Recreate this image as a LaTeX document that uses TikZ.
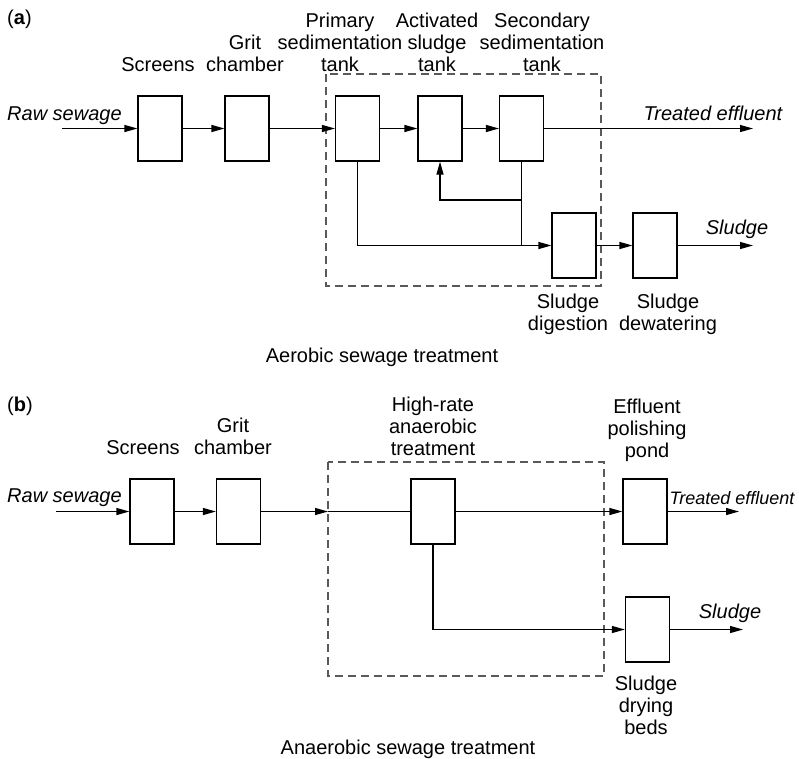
\documentclass[tikz,border=0pt]{standalone}
\usepackage{fontspec}
\setmainfont{Liberation Sans}
\usetikzlibrary{arrows.meta}

\tikzset{
  unit/.style={draw,line width=1.2pt,minimum width=44pt,minimum height=65pt,inner sep=0pt},
  flow/.style={line width=1.2pt,-{Triangle[length=13pt,width=7pt]}},
  pipe/.style={line width=1.2pt},
  zone/.style={draw,black!65,line width=1.2pt,dash pattern=on 8pt off 5pt},
  lbl/.style={align=center,inner sep=0pt,anchor=base,font=\fontsize{20}{22}\selectfont},
  stream/.style={inner sep=0pt,anchor=base,font=\fontsize{20}{22}\selectfont\itshape},
}

\begin{document}
\begin{tikzpicture}[x=1pt,y=-1pt]
\useasboundingbox (0,0) rectangle (799,758);

%%% (a) AEROBIC
\node[lbl,anchor=base west] at (7,24) {(\textbf{a})};
\draw[zone] (326,74) rectangle (601,286);
\node[unit] (scrA) at (160,128.5) {};
\node[unit] (gritA) at (247,128.5) {};
\node[unit] (primA) at (357.5,128.5) {};
\node[unit] (actA) at (440,128.5) {};
\node[unit] (secA) at (521.5,128.5) {};
\node[unit] (digA) at (574,245.5) {};
\node[unit] (dewA) at (655,245.5) {};
\coordinate (rawA) at (62,128.5);
\coordinate (effA) at (753,128.5);
\coordinate (sluA) at (753,245.5);

\node[lbl] at (158,71) {Screens};
\node[lbl] at (245,71) {Grit\\chamber};
\node[lbl] at (340,71) {Primary\\sedimentation\\tank};
\node[lbl] at (437,71) {Activated\\sludge\\tank};
\node[lbl] at (542,71) {Secondary\\sedimentation\\tank};
\node[lbl] at (568,330) {Sludge\\digestion};
\node[lbl] at (668,330) {Sludge\\dewatering};
\node[stream,anchor=base west] at (7,120) {Raw sewage};
\node[stream] at (713,120) {Treated effluent};
\node[stream] at (737,234) {Sludge};
\node[lbl] at (382,362) {Aerobic sewage treatment};

\draw[flow] (rawA) -- (scrA.west);
\draw[flow] (scrA) -- (gritA);
\draw[flow] (gritA) -- (primA);
\draw[flow] (primA) -- (actA);
\draw[flow] (actA) -- (secA);
\draw[flow] (secA) -- (effA);
\draw[flow] (secA.south) -- (secA.south |- 0,200) -- (actA.south |- 0,200) -- (actA.south);
\draw[pipe] (secA.south) -- (secA.south |- digA.west);
\draw[flow] (primA.south) -- (primA.south |- digA.west) -- (digA.west);
\draw[flow] (digA) -- (dewA);
\draw[flow] (dewA.east) -- (sluA);

%%% (b) ANAEROBIC
\node[lbl,anchor=base west] at (7,411) {(\textbf{b})};
\draw[zone] (328,462) rectangle (604,676);
\node[unit] (scrB) at (152,511.5) {};
\node[unit] (gritB) at (238.5,511.5) {};
\node[unit] (hrB) at (433,511.5) {};
\node[unit] (polB) at (645,511.5) {};
\node[unit] (dryB) at (647.5,629.5) {};
\coordinate (rawB) at (56,511.5);
\coordinate (inB) at (328,511.5);
\coordinate (effB) at (739,511.5);
\coordinate (sluB) at (743,629.5);

\node[lbl] at (143,454) {Screens};
\node[lbl] at (233,454) {Grit\\chamber};
\node[lbl] at (433,455) {High-rate\\anaerobic\\treatment};
\node[lbl] at (647,457) {Effluent\\polishing\\pond};
\node[lbl] at (646,734) {Sludge\\drying\\beds};
\node[stream,anchor=base west] at (7,502) {Raw sewage};
\node[stream,font=\fontsize{18}{20}\selectfont\itshape] at (732,504) {Treated effluent};
\node[stream] at (730,618) {Sludge};
\node[lbl] at (408,754) {Anaerobic sewage treatment};

\draw[flow] (rawB) -- (scrB.west);
\draw[flow] (scrB) -- (gritB);
\draw[flow] (gritB.east) -- (inB);
\draw[pipe] (inB) -- (hrB.west);
\draw[flow] (hrB) -- (polB);
\draw[flow] (polB.east) -- (effB);
\draw[flow] (hrB.south) -- (hrB.south |- dryB.west) -- (dryB.west);
\draw[flow] (dryB.east) -- (sluB);
\end{tikzpicture}
\end{document}
